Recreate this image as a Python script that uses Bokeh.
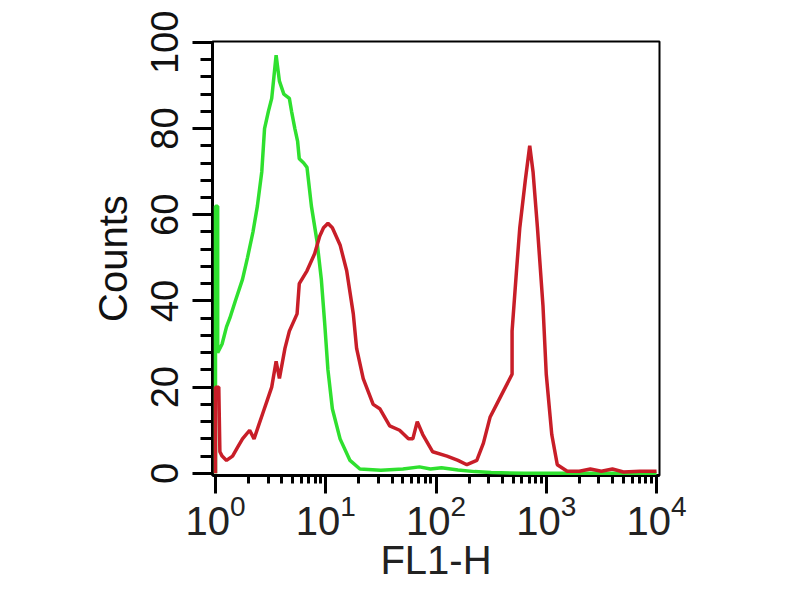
import numpy as np
from bokeh.plotting import figure
from bokeh.models import Range1d, FixedTicker
from bokeh.embed import file_html
from bokeh.resources import INLINE

# ---- data ----
# positions on the FL1-H axis given as decades (log10 of channel value)
green_exp = [0.0, 0.0, 0.02, 0.02, 0.06, 0.10, 0.13, 0.18, 0.245, 0.29, 0.34, 0.38, 0.42, 0.445,
             0.48, 0.51, 0.53, 0.55, 0.58, 0.62, 0.67, 0.69, 0.72, 0.745, 0.76, 0.80, 0.83, 0.87,
             0.92, 0.96, 0.99, 1.02, 1.06, 1.13, 1.22, 1.31, 1.50, 1.70, 1.85, 1.95, 2.05, 2.20,
             2.35, 2.50, 2.80, 4.0]
green_counts = [0, 62, 62, 28, 30, 34, 36, 40, 45, 50, 56, 62, 70, 80,
                84, 87, 92, 97, 91, 88, 87, 84, 80, 77, 73, 72, 71, 62,
                54, 45, 35, 24, 15, 8, 3, 1, 0.7, 1, 1.5, 1, 1.3, 0.8,
                0.4, 0.2, 0, 0]

red_exp = [0.0, 0.0, 0.03, 0.04, 0.06, 0.10, 0.155, 0.20, 0.245, 0.31, 0.35, 0.39, 0.43, 0.47,
           0.51, 0.55, 0.58, 0.63, 0.67, 0.74, 0.76, 0.83, 0.90, 0.945, 0.98, 1.02, 1.06, 1.13,
           1.19, 1.25, 1.28, 1.34, 1.43, 1.49, 1.58, 1.67, 1.75, 1.79, 1.83, 1.88, 1.97, 2.10,
           2.20, 2.28, 2.37, 2.43, 2.49, 2.55, 2.63, 2.69, 2.69, 2.73, 2.76, 2.81, 2.85, 2.88,
           2.92, 2.97, 3.00, 3.05, 3.10, 3.19, 3.30, 3.40, 3.50, 3.60, 3.70, 3.85, 4.0]
red_counts = [0, 20, 20, 5, 4, 3, 4, 6, 8, 10, 8, 11, 14, 17,
              20, 26, 22, 29, 33, 37, 44, 47, 51, 55, 57, 58, 57, 53,
              47, 37, 29, 22, 16, 15, 11, 10, 8, 8, 12, 9, 5, 4,
              3, 2, 3, 7, 13, 16, 20, 23, 33, 47, 57, 68, 76, 70,
              57, 39, 23, 9, 2, 0.5, 0.5, 1, 0.5, 1, 0.3, 0.5, 0.5]

x_major_ticks = [1, 10, 100, 1000, 10000]
x_minor_ticks = [m * 10 ** k for k in range(4) for m in range(2, 10)]
y_major_ticks = [0, 20, 40, 60, 80, 100]
y_minor_ticks = [v for v in range(0, 101, 4) if v % 20 != 0]

x_label = "FL1-H"
y_label = "Counts"

green_color = "#2fe02f"
red_color = "#c81e28"

p = figure(width=784, height=584, x_axis_type="log",
           x_range=Range1d(10 ** -0.027, 10 ** 4.027), y_range=Range1d(-0.5, 100.2),
           output_backend="svg", toolbar_location=None,
           min_border_left=212, min_border_right=125, min_border_top=41, min_border_bottom=107)

p.line(np.power(10.0, green_exp), green_counts, line_color=green_color, line_width=3.5,
       level="overlay")
p.line(np.power(10.0, red_exp), red_counts, line_color=red_color, line_width=3.5,
       level="overlay")

p.grid.visible = False
p.background_fill_color = "white"
p.border_fill_color = "white"
p.outline_line_color = "black"
p.outline_line_width = 2
p.outline_line_alpha = 1

xa = p.xaxis[0]
xa.ticker = FixedTicker(ticks=x_major_ticks, minor_ticks=x_minor_ticks)
xa.axis_label = x_label
xa.axis_line_color = "black"
xa.axis_line_width = 3
xa.major_tick_line_color = "black"
xa.minor_tick_line_color = "black"
xa.major_tick_line_width = 3
xa.minor_tick_line_width = 3
xa.major_tick_out = 18
xa.major_tick_in = 0
xa.minor_tick_out = 8
xa.minor_tick_in = 0
xa.major_label_text_font = "Liberation Sans"
xa.major_label_text_font_size = "40px"
xa.major_label_text_color = "#222222"
xa.major_label_standoff = 0
xa.axis_label_text_font = "Liberation Sans"
xa.axis_label_text_font_size = "40px"
xa.axis_label_text_font_style = "normal"
xa.axis_label_text_color = "#222222"
xa.axis_label_standoff = 0

ya = p.yaxis[0]
ya.ticker = FixedTicker(ticks=y_major_ticks, minor_ticks=y_minor_ticks)
ya.axis_label = y_label
ya.axis_line_color = "black"
ya.axis_line_width = 3
ya.major_tick_line_color = "black"
ya.minor_tick_line_color = "black"
ya.major_tick_line_width = 3
ya.minor_tick_line_width = 3
ya.major_tick_out = 20
ya.major_tick_in = 0
ya.minor_tick_out = 12
ya.minor_tick_in = 0
ya.major_label_orientation = "vertical"
ya.major_label_text_font = "Liberation Sans"
ya.major_label_text_font_size = "38px"
ya.major_label_text_color = "#111111"
ya.major_label_standoff = 14
ya.axis_label_text_font = "Liberation Sans"
ya.axis_label_text_font_size = "40px"
ya.axis_label_text_font_style = "normal"
ya.axis_label_text_color = "#111111"
ya.axis_label_standoff = 14

open("out.html", "w").write(file_html(p, INLINE))
